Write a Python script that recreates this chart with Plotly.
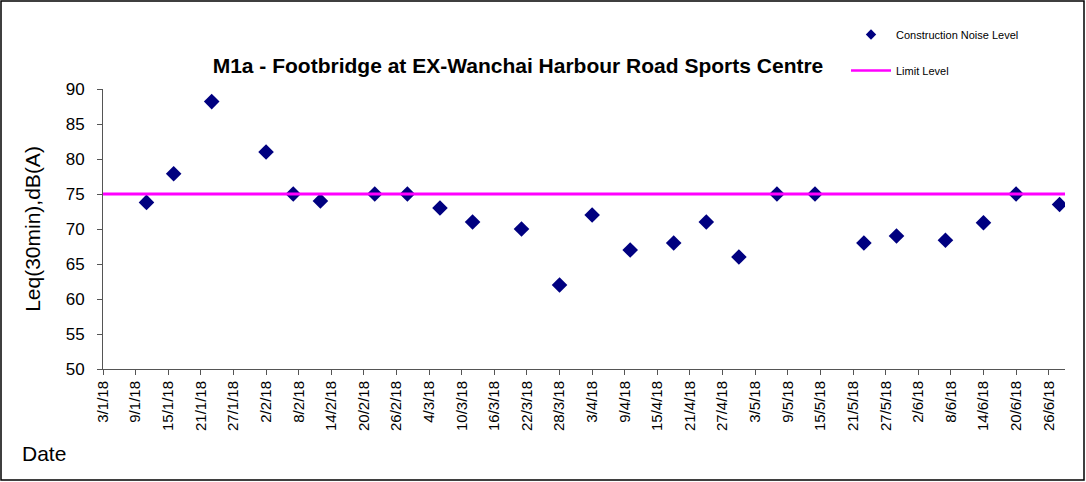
import pandas as pd
import plotly.graph_objects as go

# ---- data ----
dates = ["11/1/18", "16/1/18", "23/1/18", "2/2/18", "7/2/18", "12/2/18", "22/2/18",
         "28/2/18", "6/3/18", "12/3/18", "21/3/18", "28/3/18", "3/4/18", "10/4/18",
         "18/4/18", "24/4/18", "30/4/18", "7/5/18", "14/5/18", "23/5/18", "29/5/18",
         "7/6/18", "14/6/18", "20/6/18", "28/6/18"]
noise = [73.8, 77.9, 88.2, 81.0, 75.0, 74.0, 75.0, 75.0, 73.0, 71.0, 70.0, 62.0,
         72.0, 67.0, 68.0, 71.0, 66.0, 75.0, 75.0, 68.0, 69.0, 68.4, 70.9, 75.0, 73.5]
limit_dates = ["3/1/18", "29/6/18"]
limit_values = [75, 75]
tick_labels = ["3/1/18", "9/1/18", "15/1/18", "21/1/18", "27/1/18", "2/2/18", "8/2/18",
               "14/2/18", "20/2/18", "26/2/18", "4/3/18", "10/3/18", "16/3/18", "22/3/18",
               "28/3/18", "3/4/18", "9/4/18", "15/4/18", "21/4/18", "27/4/18", "3/5/18",
               "9/5/18", "15/5/18", "21/5/18", "27/5/18", "2/6/18", "8/6/18", "14/6/18",
               "20/6/18", "26/6/18"]
x_range = ["3/1/18", "29/6/18"]
y_range = [50, 90]

def to_dt(v):
    return pd.to_datetime(v, format="%d/%m/%y")

FONT = "Arial, Liberation Sans, sans-serif"
NAVY = "#000080"
PINK = "#FF00FF"

fig = go.Figure()
fig.add_trace(go.Scatter(
    x=to_dt(dates), y=noise, mode="markers", name="Construction Noise Level",
    marker=dict(symbol="diamond", size=12, color=NAVY), showlegend=False))
fig.add_trace(go.Scatter(
    x=to_dt(limit_dates), y=limit_values, mode="lines", name="Limit Level",
    line=dict(color=PINK, width=3), showlegend=False))
# legend entries (smaller symbols, as in the reference legend)
fig.add_trace(go.Scatter(
    x=[None], y=[None], mode="markers", name="Construction Noise Level",
    marker=dict(symbol="diamond", size=8, color=NAVY), legendgroup="a"))
fig.add_trace(go.Scatter(
    x=[None], y=[None], mode="lines", name="Limit Level",
    line=dict(color=PINK, width=2.5), legendgroup="b"))

W, H = 1086, 482
L, R, T, B = 103, 21, 89, 113
pw, ph = W - L - R, H - T - B

fig.update_layout(
    width=W, height=H,
    margin=dict(l=L, r=R, t=T, b=B),
    paper_bgcolor="white", plot_bgcolor="white",
    font=dict(family=FONT, color="black"),
    title=dict(text="<b>M1a - Footbridge at EX-Wanchai Harbour Road Sports Centre</b>",
               x=518 / W, xanchor="center", y=1 - 66 / H, yanchor="middle",
               font=dict(size=21, family=FONT)),
    showlegend=True,
    legend=dict(x=(846 - L) / pw, xanchor="left", y=1 + (T - 20) / ph, yanchor="top",
                font=dict(size=11, family=FONT), tracegroupgap=17,
                bgcolor="rgba(0,0,0,0)", itemwidth=40),
    xaxis=dict(
        type="date", range=[to_dt(x_range[0]), to_dt(x_range[1])],
        tickmode="array", tickvals=to_dt(tick_labels), ticktext=tick_labels,
        tickangle=-90, tickfont=dict(size=15, family=FONT),
        ticks="outside", ticklen=5, tickcolor="#555", showgrid=False,
        showline=True, linecolor="#555", linewidth=1, zeroline=False),
    yaxis=dict(
        range=y_range, dtick=5, tickfont=dict(size=17, family=FONT),
        ticks="outside", ticklen=5, tickcolor="#555", showgrid=False,
        showline=True, linecolor="#555", linewidth=1, zeroline=False,
        ticklabelstandoff=9,
        title=dict(text="Leq(30min),dB(A)", font=dict(size=21, family=FONT), standoff=19)),
    annotations=[dict(text="Date", xref="paper", yref="paper",
                      x=(20 - L) / pw, xanchor="left", y=-(453 - T - ph) / ph, yanchor="middle",
                      showarrow=False, font=dict(size=21, family=FONT))],
    shapes=[dict(type="rect", xref="paper", yref="paper",
                 x0=(1 - L) / pw, x1=(W - 2 - L) / pw,
                 y0=-(H - 2 - T - ph) / ph, y1=1 + (T - 1) / ph,
                 line=dict(color="black", width=1.5), layer="below")],
)

fig.write_html("out.html", config={"displayModeBar": False},
               post_script="document.body.style.margin='0px';")
